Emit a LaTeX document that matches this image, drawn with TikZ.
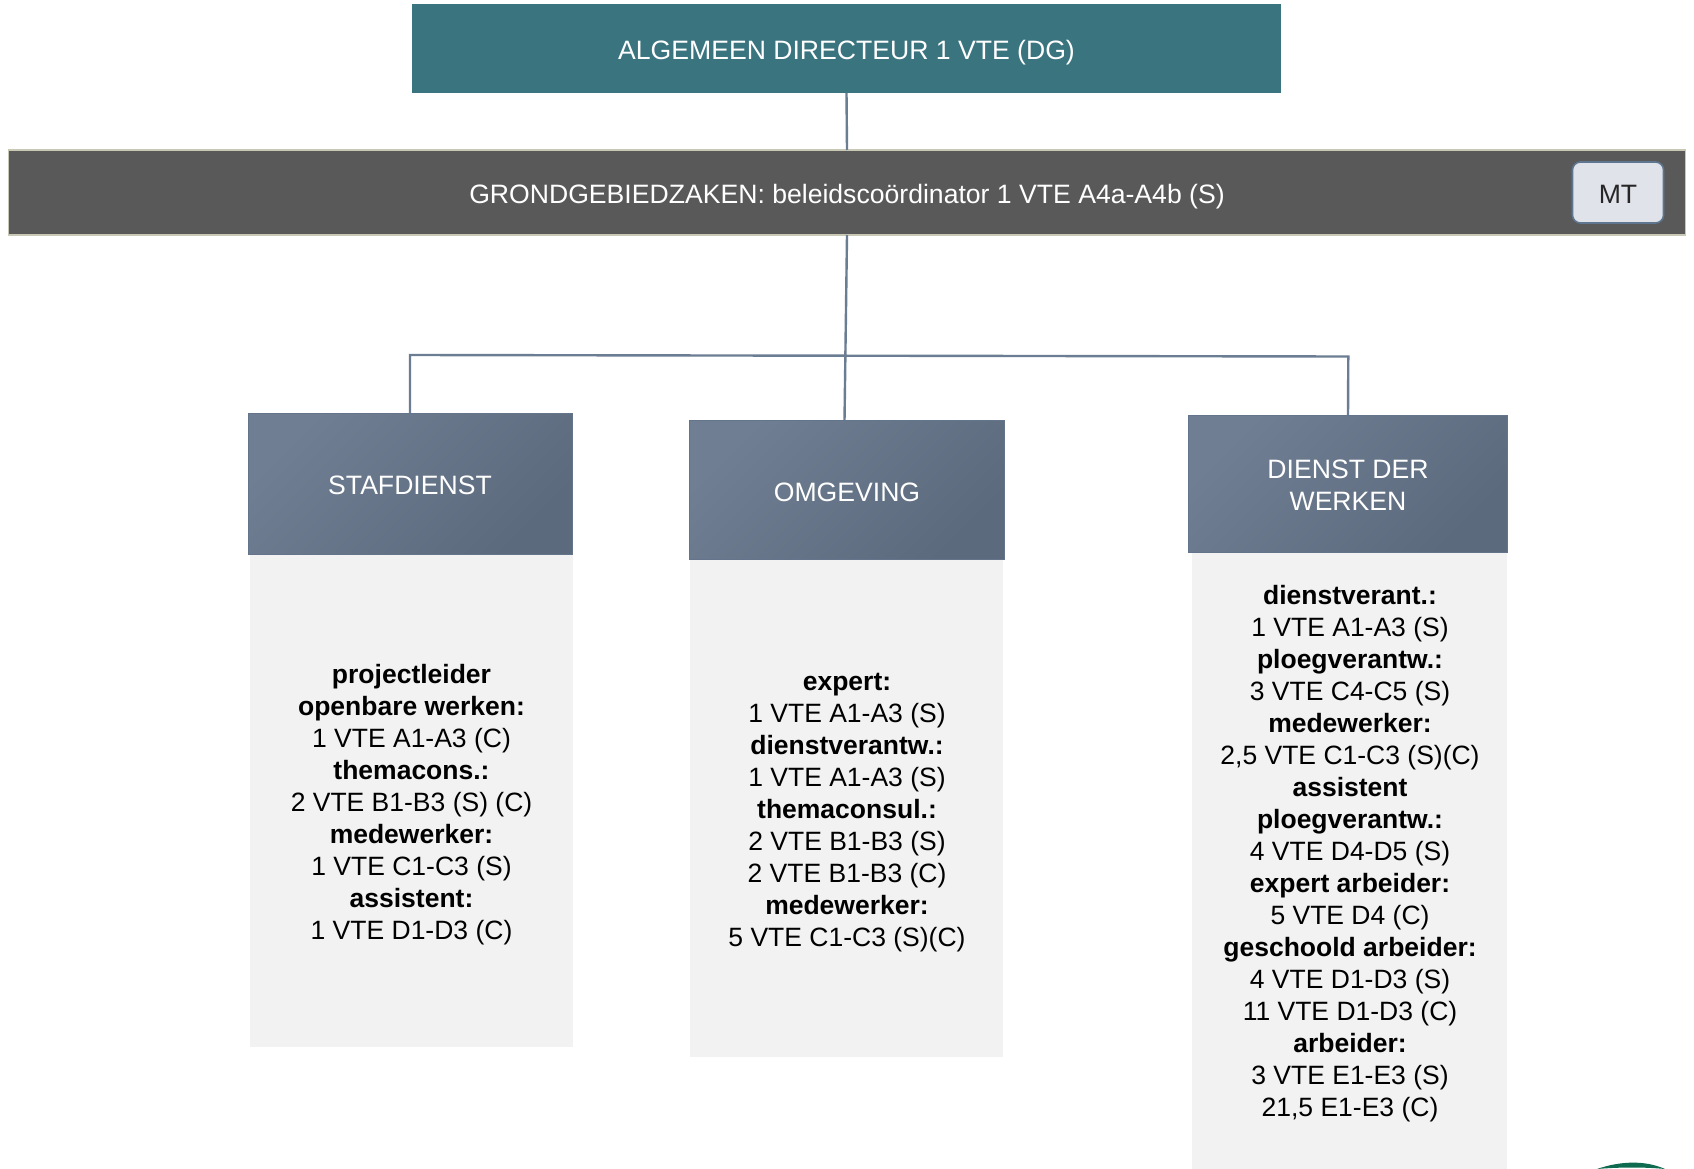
\documentclass[tikz,border=0pt]{standalone}
\usepackage{fontspec}
\setmainfont{Liberation Sans}
\definecolor{teal1}{HTML}{39747F}
\definecolor{bar1}{HTML}{595959}
\definecolor{barb}{HTML}{C8C8B4}
\definecolor{graybox}{HTML}{F2F2F2}
\definecolor{mtfill}{HTML}{E0E3EA}
\definecolor{mtb}{HTML}{5F7690}
\definecolor{hdA}{HTML}{6F7E92}
\definecolor{hdB}{HTML}{5B6A7D}
\definecolor{hdl}{HTML}{64748A}
\definecolor{conn}{HTML}{6B7D93}
\definecolor{logo}{HTML}{0F6B50}
\tikzset{
 pbox/.style 2 args={minimum width=#1pt,minimum height=#2pt,inner sep=0pt,outer sep=0pt,anchor=north west},
 bodytxt/.style={font=\fontsize{26.5}{32}\selectfont,align=center},
 toptxt/.style={font=\fontsize{26.6}{32}\selectfont,align=center,text=white},
 lift/.style 2 args={text height=#1pt,text depth=#2pt},
 hdbox/.style={draw=hdl,line width=0.8pt,left color=hdA,right color=hdB,shading angle=45},
 conline/.style={draw=conn,line width=2.4pt},
 graypanel/.style={fill=graybox},
}
\begin{document}
\begin{tikzpicture}[x=1pt,y=-1pt]
\useasboundingbox (0,0) rectangle (1694,1169);
\fill[white] (0,0) rectangle (1694,1169);
% panels
\node[pbox={323}{493},graypanel] (p1) at (250,554) {};
\node[pbox={313}{497},graypanel] (p2) at (690,559.5) {};
\node[pbox={315}{617},graypanel] (p3) at (1192,552) {};
% top
\node[pbox={869}{89},fill=teal1,toptxt,lift={24.6}{3.2}] (dg) at (412,4) {ALGEMEEN DIRECTEUR 1 VTE (DG)};
\node[pbox={1677}{85},fill=bar1,draw=barb,line width=1.4pt,toptxt,lift={24.6}{3.2}] (grond) at (8.5,150) {GRONDGEBIEDZAKEN: beleidsco\"ordinator 1 VTE A4a-A4b (S)};
\node[pbox={91}{61},rounded corners=8pt,fill=mtfill,draw=mtb,line width=1.6pt,font=\fontsize{26.6}{32}\selectfont,text=black!85,lift={22}{0}] (mt) at (1572.5,162) {MT};
% headers
\node[pbox={324}{141},hdbox,toptxt,lift={22}{0}] (staf) at (248,413) {STAFDIENST};
\node[pbox={315}{139},hdbox,toptxt,lift={22}{0}] (omg) at (689.5,420.5) {OMGEVING};
\node[pbox={319}{137},hdbox,toptxt,lift={53}{0}] (dw) at (1188.5,415.2) {DIENST DER\\WERKEN};
% connectors
\coordinate (jl) at (410,355);
\coordinate (jr) at (1348.3,356.5);
\draw[conline] (dg.south) -- (grond.north);
\draw[conline] (grond.south) -- ([xshift=-2.5pt]omg.north);
\draw[conline] (staf.north) -- (jl) -- (jr) -- (dw.north);
% body text
\node[bodytxt] (t1) at (411.5,804.5) {\textbf{projectleider}\\\textbf{openbare werken:}\\1 VTE A1-A3 (C)\\\textbf{themacons.:}\\2 VTE B1-B3 (S) (C)\\\textbf{medewerker:}\\1 VTE C1-C3 (S)\\\textbf{assistent:}\\1 VTE D1-D3 (C)};
\node[bodytxt] (t2) at (847,813) {\textbf{expert:}\\1 VTE A1-A3 (S)\\\textbf{dienstverantw.:}\\1 VTE A1-A3 (S)\\\textbf{themaconsul.:}\\2 VTE B1-B3 (S)\\2 VTE B1-B3 (C)\\\textbf{medewerker:}\\5 VTE C1-C3 (S)(C)};
\node[bodytxt] (t3) at (1350,854) {\textbf{dienstverant.:}\\1 VTE A1-A3 (S)\\\textbf{ploegverantw.:}\\3 VTE C4-C5 (S)\\\textbf{medewerker:}\\2,5 VTE C1-C3 (S)(C)\\\textbf{assistent}\\\textbf{ploegverantw.:}\\4 VTE D4-D5 (S)\\\textbf{expert arbeider:}\\5 VTE D4 (C)\\\textbf{geschoold arbeider:}\\4 VTE D1-D3 (S)\\11 VTE D1-D3 (C)\\\textbf{arbeider:}\\3 VTE E1-E3 (S)\\21,5 E1-E3 (C)};
% logo sliver
\fill[logo] (1597,1169) .. controls (1620,1161) and (1645,1160) .. (1665,1169) .. controls (1645,1167) and (1620,1167) .. (1597,1169) -- cycle;
\end{tikzpicture}
\end{document}
